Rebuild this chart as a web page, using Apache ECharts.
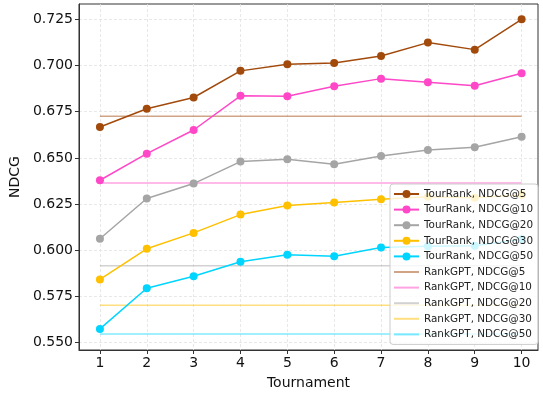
<!DOCTYPE html>
<html>
<head>
<meta charset="utf-8">
<script src="https://cdn.jsdelivr.net/npm/echarts@6/dist/echarts.min.js"></script>
<style>
  html, body { margin: 0; padding: 0; background: #fff; }
  #chart { width: 543px; height: 396px; }
</style>
</head>
<body>
<div id="chart"></div>
<script>
// Tournament rounds
const tournaments = [1, 2, 3, 4, 5, 6, 7, 8, 9, 10];

// TourRank NDCG per tournament count
const tourNdcg5  = [0.6667, 0.6766, 0.6827, 0.6971, 0.7007, 0.7014, 0.7052, 0.7124, 0.7086, 0.7250];
const tourNdcg10 = [0.6379, 0.6523, 0.6651, 0.6836, 0.6834, 0.6888, 0.6929, 0.6910, 0.6890, 0.6958];
const tourNdcg20 = [0.6062, 0.6280, 0.6361, 0.6480, 0.6492, 0.6465, 0.6510, 0.6543, 0.6557, 0.6614];
const tourNdcg30 = [0.5842, 0.6008, 0.6094, 0.6193, 0.6242, 0.6258, 0.6276, 0.6290, 0.6284, 0.6300];
const tourNdcg50 = [0.5574, 0.5794, 0.5859, 0.5938, 0.5976, 0.5968, 0.6015, 0.6021, 0.6024, 0.6060];

// RankGPT baselines (constant)
const rankGptNdcg = [0.6726, 0.6364, 0.5916, 0.5702, 0.5547];

const cutoffs = ['5', '10', '20', '30', '50'];
const colors = ['#A24A0B', '#FF47C8', '#A5A5A5', '#FFC000', '#00D5FF'];

const xTicks = tournaments;
const yTicks = [0.550, 0.575, 0.600, 0.625, 0.650, 0.675, 0.700, 0.725];

const tourSets = [tourNdcg5, tourNdcg10, tourNdcg20, tourNdcg30, tourNdcg50];

const series = [];
const legendData = [];
tourSets.forEach((vals, i) => {
  const name = 'TourRank, NDCG@' + cutoffs[i];
  series.push({
    name: name,
    type: 'line',
    data: tournaments.map((t, j) => [t, vals[j]]),
    symbol: 'circle',
    symbolSize: 8,
    lineStyle: { color: colors[i], width: 1.5 },
    itemStyle: { color: colors[i] },
    z: 3
  });
  legendData.push({ name: name });
});
rankGptNdcg.forEach((v, i) => {
  const name = 'RankGPT, NDCG@' + cutoffs[i];
  series.push({
    name: name,
    type: 'line',
    data: [[tournaments[0], v], [tournaments[tournaments.length - 1], v]],
    symbol: 'none',
    lineStyle: { color: colors[i], width: 1.5, opacity: 0.5 },
    itemStyle: { color: colors[i] },
    z: 2
  });
  // baseline entries show only the line, no marker
  legendData.push({ name: name, itemStyle: { opacity: 0 } });
});

const font = 'DejaVu Sans';
const chart = echarts.init(document.getElementById('chart'), null, { renderer: 'canvas' });
chart.setOption({
  animation: false,
  backgroundColor: '#fff',
  grid: {
    left: 78, top: 4, right: 5, bottom: 46,
    show: true, borderColor: '#333', borderWidth: 1, backgroundColor: 'transparent'
  },
  xAxis: {
    type: 'value',
    min: 0.553, max: 10.35,
    name: 'Tournament',
    nameLocation: 'middle',
    nameGap: 26,
    nameTextStyle: { fontFamily: font, fontSize: 14, color: '#111' },
    axisLine: { show: true, lineStyle: { color: '#333' } },
    axisTick: { show: true, length: 4, lineStyle: { color: '#333' }, customValues: xTicks },
    axisLabel: { fontFamily: font, fontSize: 14, color: '#111', margin: 6, customValues: xTicks },
    splitLine: { show: true, lineStyle: { color: '#e2e2e2', type: [3, 2], width: 0.8 } }
  },
  yAxis: {
    type: 'value',
    min: 0.546, max: 0.7333,
    name: 'NDCG',
    nameLocation: 'middle',
    nameGap: 50,
    nameTextStyle: { fontFamily: font, fontSize: 14, color: '#111' },
    axisLine: { show: true, lineStyle: { color: '#333' } },
    axisTick: { show: true, length: 4, lineStyle: { color: '#333' }, customValues: yTicks },
    axisLabel: {
      fontFamily: font, fontSize: 14, color: '#111', margin: 6, customValues: yTicks,
      formatter: v => v.toFixed(3)
    },
    splitLine: { show: true, lineStyle: { color: '#e2e2e2', type: [3, 2], width: 0.8 } }
  },
  legend: {
    orient: 'vertical',
    left: 390, top: 184,
    padding: [4, 5, 4, 3],
    itemWidth: 25, itemHeight: 10, itemGap: 3.6,
    backgroundColor: 'rgba(255,255,255,0.8)',
    borderColor: '#cccccc', borderWidth: 1, borderRadius: 3,
    textStyle: { fontFamily: font, fontSize: 10.4, color: '#222', lineHeight: 12 },
    data: legendData
  },
  series: series
});
</script>
</body>
</html>
